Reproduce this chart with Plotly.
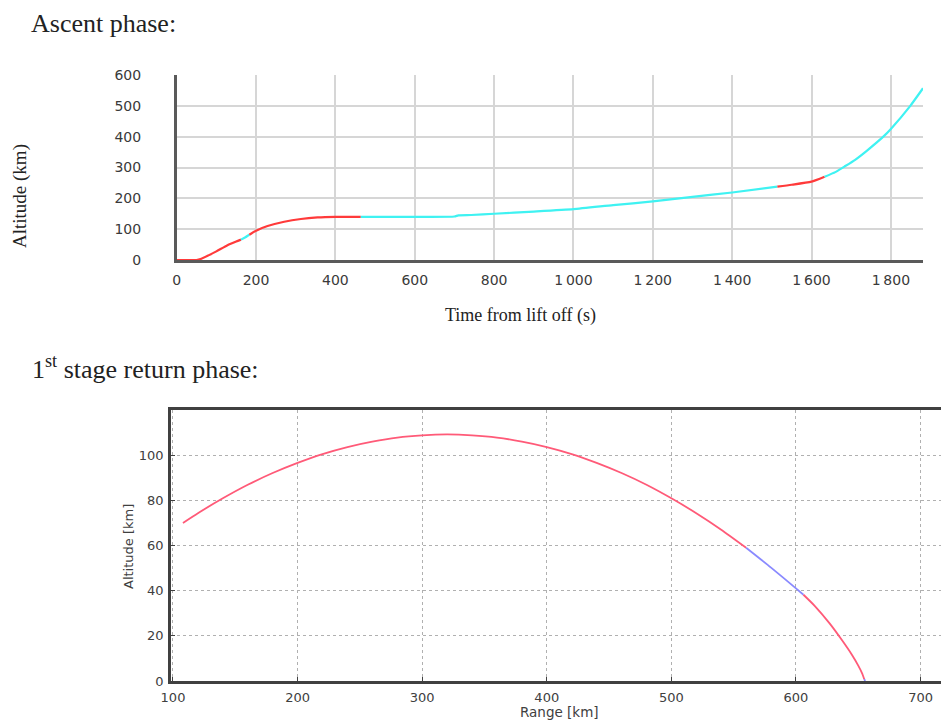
import plotly.graph_objects as go

W, H = 941, 721

# ---------------- Ascent phase data (time s, altitude km) ----------------
asc_red1_t = [0, 50, 60, 80, 100, 128, 150, 162]
asc_red1_h = [0, 0, 3, 15, 28, 48, 60, 66]
asc_cyan1_t = [162, 172, 183]
asc_cyan1_h = [66, 73, 82]
asc_red2_t = [183, 200, 229, 271, 313, 355, 400, 464]
asc_red2_h = [82, 95, 110, 124, 133, 138, 140, 140]
asc_cyan2_t = [464, 600, 700, 710, 742, 800, 900, 1000, 1100, 1200, 1300, 1400, 1514]
asc_cyan2_h = [140, 140, 141, 145, 146, 150, 157, 165, 178, 190, 205, 219, 238]
asc_red3_t = [1514, 1550, 1600, 1633]
asc_red3_h = [238, 244, 254, 270]
asc_cyan3_t = [1633, 1660, 1683, 1710, 1740, 1781, 1800, 1849, 1881]
asc_cyan3_h = [270, 285, 303, 325, 355, 400, 425, 500, 557]

asc_xticks = [0, 200, 400, 600, 800, 1000, 1200, 1400, 1600, 1800]
asc_xticktext = ["0", "200", "400", "600", "800", "1\u2009000", "1\u2009200", "1\u2009400", "1\u2009600", "1\u2009800"]
asc_yticks = [0, 100, 200, 300, 400, 500, 600]

# ---------------- 1st stage return data (range km, altitude km) ----------------
ret_red1_x = [108, 120, 140, 160, 180, 200, 220, 240, 260, 280, 300, 320, 340, 360, 380, 400,
              420, 440, 460, 480, 500, 520, 540, 560]
ret_red1_h = [70, 74.3, 80.9, 86.9, 92.1, 96.6, 100.5, 103.6, 106, 107.8, 108.8, 109.2, 108.8, 107.8, 106, 103.6,
              100.5, 96.6, 92.1, 86.9, 80.9, 74.3, 67, 59]
ret_blue1_x = [560, 580, 600, 606]
ret_blue1_h = [59, 50.2, 41, 38.2]
ret_red2_x = [606, 615, 627, 637, 645, 650, 653, 654.8]
ret_red2_h = [38.2, 33.3, 25.5, 18.0, 11.5, 6.8, 3.5, 0.8]
ret_blue2_x = [654.8, 655.5]
ret_blue2_h = [0.8, 0]

ret_xticks = [100, 200, 300, 400, 500, 600, 700]
ret_yticks = [0, 20, 40, 60, 80, 100]

RED_TOP = "#ff3a3a"
CYAN_TOP = "#3ff2f2"
RED_BOT = "#ff5a78"
BLUE_BOT = "#8a8aff"


def px_x(p):
    return p / W


def px_y(p):
    return (H - p) / H


fig = go.Figure()

for t, h, c in [
    (asc_red1_t, asc_red1_h, RED_TOP),
    (asc_cyan1_t, asc_cyan1_h, CYAN_TOP),
    (asc_red2_t, asc_red2_h, RED_TOP),
    (asc_cyan2_t, asc_cyan2_h, CYAN_TOP),
    (asc_red3_t, asc_red3_h, RED_TOP),
    (asc_cyan3_t, asc_cyan3_h, CYAN_TOP),
]:
    fig.add_trace(go.Scatter(x=t, y=h, mode="lines", line=dict(color=c, width=2.2, shape="spline", smoothing=0.5),
                             xaxis="x", yaxis="y", showlegend=False, hoverinfo="skip"))

for x, h, c in [
    (ret_red1_x, ret_red1_h, RED_BOT),
    (ret_blue1_x, ret_blue1_h, BLUE_BOT),
    (ret_red2_x, ret_red2_h, RED_BOT),
    (ret_blue2_x, ret_blue2_h, BLUE_BOT),
]:
    fig.add_trace(go.Scatter(x=x, y=h, mode="lines", line=dict(color=c, width=1.8, shape="spline", smoothing=0.6),
                             xaxis="x2", yaxis="y2", showlegend=False, hoverinfo="skip"))

fig.update_layout(
    width=W, height=H,
    margin=dict(l=0, r=0, t=0, b=0, autoexpand=False),
    paper_bgcolor="white", plot_bgcolor="white",
    showlegend=False,
    xaxis=dict(
        domain=[px_x(176.7), px_x(923)], range=[0, 1881], anchor="y", automargin=False,
        tickmode="array", tickvals=asc_xticks, ticktext=asc_xticktext,
        showgrid=True, gridcolor="#d6d6d6", gridwidth=1.5,
        showline=True, linecolor="#5a5a5a", linewidth=2.5,
        zeroline=False, ticks="", ticklabelstandoff=5,
        tickfont=dict(family="DejaVu Sans", size=14, color="#3a3a3a"),
    ),
    yaxis=dict(
        domain=[px_y(260), px_y(75)], range=[0, 600], anchor="x", automargin=False,
        tickmode="array", tickvals=asc_yticks,
        showgrid=True, gridcolor="#d6d6d6", gridwidth=1.5,
        showline=True, linecolor="#5a5a5a", linewidth=2.5,
        zeroline=False, ticks="", ticklabelstandoff=30,
        tickfont=dict(family="DejaVu Sans", size=14, color="#3a3a3a"),
    ),
    xaxis2=dict(
        domain=[px_x(171), 1.0], range=[98.4, 716.4], anchor="y2", automargin=False,
        tickmode="array", tickvals=ret_xticks,
        showgrid=True, gridcolor="#b0b0b0", gridwidth=1, griddash="dot",
        showline=True, linecolor="#404040", linewidth=2.5, mirror=True,
        zeroline=False, ticks="inside", ticklen=4, tickcolor="#404040", ticklabelstandoff=3,
        tickfont=dict(family="DejaVu Sans", size=13, color="#404040"),
    ),
    yaxis2=dict(
        domain=[px_y(681), px_y(410)], range=[0, 120], anchor="x2", automargin=False,
        tickmode="array", tickvals=ret_yticks,
        showgrid=True, gridcolor="#b0b0b0", gridwidth=1, griddash="dot",
        showline=True, linecolor="#404040", linewidth=2.5,
        zeroline=False, ticks="inside", ticklen=4, tickcolor="#404040", ticklabelstandoff=2,
        tickfont=dict(family="DejaVu Sans", size=13, color="#404040"),
    ),
    annotations=[
        dict(text="Ascent phase:", x=px_x(29), y=px_y(24), xref="paper", yref="paper",
             xanchor="left", yanchor="middle", showarrow=False,
             font=dict(family="Liberation Serif", size=26, color="#222")),
        dict(text="Altitude (km)", x=px_x(20), y=px_y(196), xref="paper", yref="paper",
             xanchor="center", yanchor="middle", textangle=-90, showarrow=False,
             font=dict(family="Liberation Serif", size=19, color="#222")),
        dict(text="Time from lift off (s)", x=px_x(520), y=px_y(315), xref="paper", yref="paper",
             xanchor="center", yanchor="middle", showarrow=False,
             font=dict(family="Liberation Serif", size=18, color="#222")),
        dict(text="1<sup>st</sup> stage return phase:", x=px_x(30), y=px_y(367), xref="paper", yref="paper",
             xanchor="left", yanchor="middle", showarrow=False,
             font=dict(family="Liberation Serif", size=26, color="#222")),
        dict(text="Altitude [km]", x=px_x(128), y=px_y(546), xref="paper", yref="paper",
             xanchor="center", yanchor="middle", textangle=-90, showarrow=False,
             font=dict(family="DejaVu Sans", size=13, color="#404040")),
        dict(text="Range [km]", x=px_x(559), y=px_y(712), xref="paper", yref="paper",
             xanchor="center", yanchor="middle", showarrow=False,
             font=dict(family="DejaVu Sans", size=13.5, color="#404040")),
    ],
)

fig.write_html("out.html", config={"displayModeBar": False},
               post_script="document.body.style.margin='0';document.body.style.overflow='hidden';")
